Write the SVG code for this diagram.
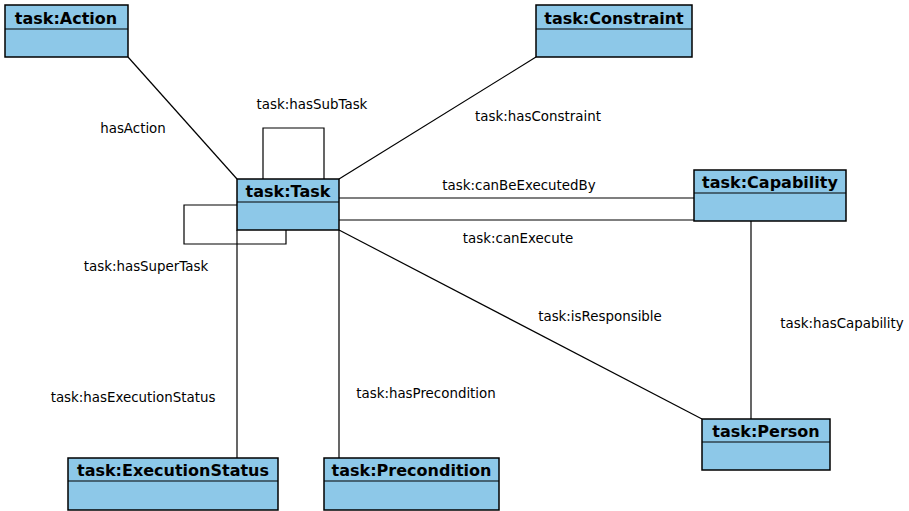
<svg xmlns="http://www.w3.org/2000/svg" width="909" height="511" viewBox="0 0 909 511">
<style>
.box{fill:#8DC8E8;stroke:#000;stroke-width:1.5}
.hd{font-family:"DejaVu Sans",sans-serif;font-weight:bold;font-size:16px;text-anchor:middle;fill:#000}
.lb{font-family:"DejaVu Sans",sans-serif;font-size:13.4px;text-anchor:middle;fill:#000}
.ln{fill:none;stroke:#000;stroke-width:1.2}
</style>
<rect width="909" height="511" fill="#fff"/>
<g id="connectors">
<line class="ln" x1="128" y1="57" x2="237" y2="179"/>
<line class="ln" x1="536" y1="57" x2="339" y2="179"/>
<polyline class="ln" points="263,179 263,128 324,128 324,179"/>
<polyline class="ln" points="237,205 184,205 184,244 286,244 286,230"/>
<line class="ln" x1="339" y1="198" x2="694" y2="198"/>
<line class="ln" x1="339" y1="220" x2="694" y2="220"/>
<line class="ln" x1="339" y1="230" x2="702" y2="419"/>
<line class="ln" x1="751" y1="221" x2="751" y2="419"/>
<line class="ln" x1="237" y1="230" x2="237" y2="458"/>
<line class="ln" x1="339" y1="230" x2="339" y2="458"/>
<text class="lb" x="133" y="133">hasAction</text>
<text class="lb" x="312" y="109">task:hasSubTask</text>
<text class="lb" x="538" y="121">task:hasConstraint</text>
<text class="lb" x="519" y="190">task:canBeExecutedBy</text>
<text class="lb" x="518" y="243">task:canExecute</text>
<text class="lb" x="146" y="271">task:hasSuperTask</text>
<text class="lb" x="600" y="321">task:isResponsible</text>
<text class="lb" x="842" y="328">task:hasCapability</text>
<text class="lb" x="133" y="402">task:hasExecutionStatus</text>
<text class="lb" x="426" y="398">task:hasPrecondition</text>
</g>
<g id="action">
<rect class="box" x="5" y="5" width="123" height="52"/>
<line class="ln" x1="5" y1="29" x2="128" y2="29"/>
<text class="hd" x="66" y="24">task:Action</text>
</g>
<g id="constraint">
<rect class="box" x="536" y="5" width="156" height="52"/>
<line class="ln" x1="536" y1="29" x2="692" y2="29"/>
<text class="hd" x="614" y="24">task:Constraint</text>
</g>
<g id="task">
<rect class="box" x="237" y="179" width="102" height="51"/>
<line class="ln" x1="237" y1="202" x2="339" y2="202"/>
<text class="hd" x="288" y="197">task:Task</text>
</g>
<g id="capability">
<rect class="box" x="694" y="170" width="152" height="51"/>
<line class="ln" x1="694" y1="193" x2="846" y2="193"/>
<text class="hd" x="770" y="188">task:Capability</text>
</g>
<g id="person">
<rect class="box" x="702" y="419" width="128" height="51"/>
<line class="ln" x1="702" y1="442" x2="830" y2="442"/>
<text class="hd" x="766" y="437">task:Person</text>
</g>
<g id="executionstatus">
<rect class="box" x="68" y="458" width="210" height="52"/>
<line class="ln" x1="68" y1="481" x2="278" y2="481"/>
<text class="hd" x="173" y="476">task:ExecutionStatus</text>
</g>
<g id="precondition">
<rect class="box" x="324" y="458" width="175" height="52"/>
<line class="ln" x1="324" y1="481" x2="499" y2="481"/>
<text class="hd" x="411.5" y="476">task:Precondition</text>
</g>
</svg>
